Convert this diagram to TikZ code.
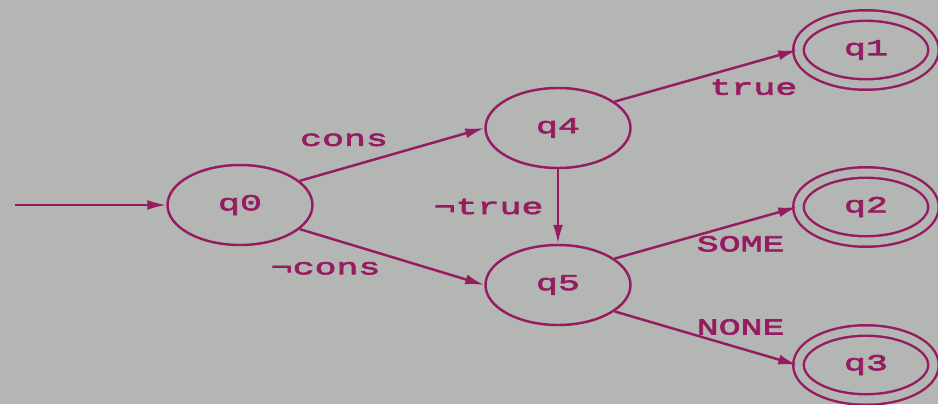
\documentclass[tikz,border=0pt]{standalone}
\usepackage{fontspec}
\setmonofont{Liberation Mono}[FakeStretch=1.6,FakeBold=3]
\usetikzlibrary{shapes.geometric,arrows.meta}
\definecolor{fsmline}{RGB}{150,28,98}
\definecolor{fsmback}{RGB}{180,182,180}
\tikzset{
  state/.style={draw, ellipse, minimum width=2.9cm, minimum height=1.6cm},
  accepting/.style={state, double=fsmback, double distance=1.6mm, minimum width=2.7cm, minimum height=1.38cm},
  lbl/.style={font=\ttfamily\fontsize{13pt}{13pt}\selectfont, text=fsmline}
}
\begin{document}
\begin{tikzpicture}[->, >={Latex[length=3.8mm,width=2mm]}, line width=1.4pt, draw=fsmline, every node/.style={lbl}]
            \fill[fsmback] (0,0) rectangle (18.76,-8.08);
            \useasboundingbox (0,0) rectangle (18.76,-8.08);
            \node[state] (q0) at (4.8,-4.1) {q0};
            \coordinate (start) at (0.3,-4.1);
            \node[state] (q4) at (11.16,-2.56) {q4};
            \node[state] (q5) at (11.16,-5.7) {q5};
            \node[accepting] (q1) at (17.32,-1.0) {q1};
            \node[accepting] (q2) at (17.32,-4.14) {q2};
            \node[accepting] (q3) at (17.32,-7.3) {q3};
            \path
            (start) edge node {} (q0.west)
            (q0.22) edge node[above=3mm, pos=0.24] {cons} (q4.west)
            (q0.-22) edge node[below=3.6mm, pos=0.14] {¬cons} (q5.west)
            (q4.south) edge node[left=1.5mm] {¬true} (q5.north)
            (q4.25) edge node[below=2mm, pos=0.76] {true} (q1.west)
            (q5.25) edge node[below=1.2mm, pos=0.69] {SOME} (q2.west)
            (q5.-25) edge node[above=1.3mm, pos=0.69] {NONE} (q3.west);
        \end{tikzpicture}
\end{document}
